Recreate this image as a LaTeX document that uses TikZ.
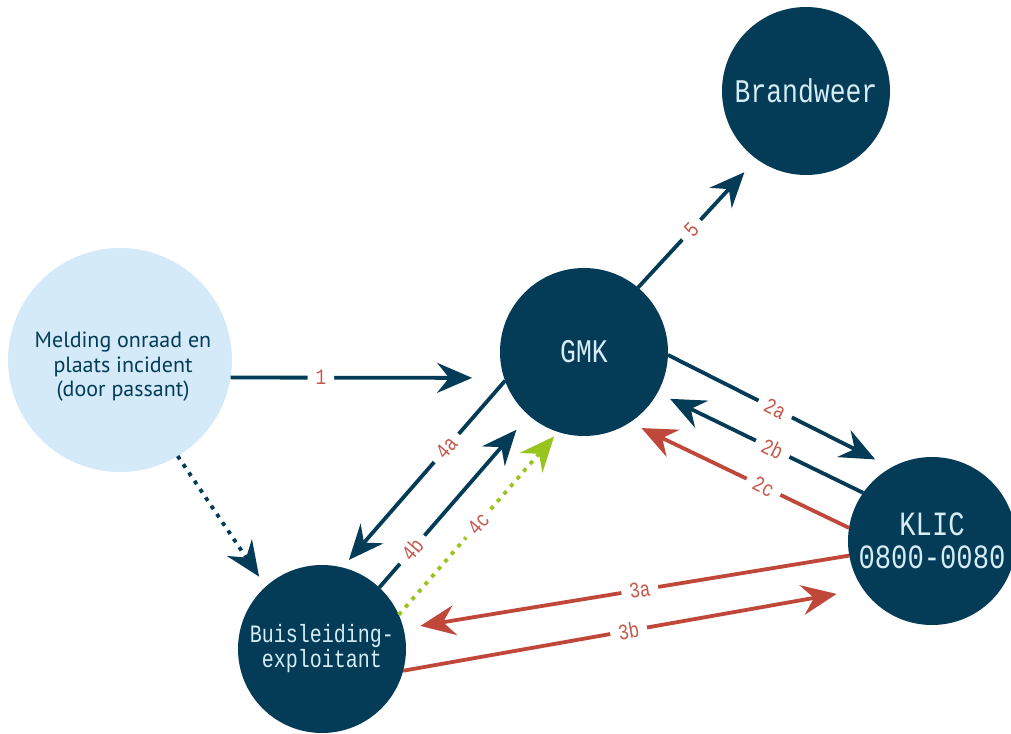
\documentclass[tikz,border=0pt]{standalone}
\usepackage{fontspec}
\setmainfont{PT Sans}
\newfontfamily\monof[FakeStretch=0.8]{Liberation Mono}
\usetikzlibrary{arrows.meta}
\definecolor{navy}{RGB}{4,60,88}
\definecolor{pale}{RGB}{212,234,248}
\definecolor{paletext}{RGB}{214,236,244}
\definecolor{lred}{RGB}{192,72,58}
\definecolor{lblred}{RGB}{198,88,76}
\definecolor{lgreen}{RGB}{152,196,30}
\tikzset{
  darkcirc/.style={circle, fill=navy, minimum size=168pt, inner sep=0pt, outer sep=0pt,
    text=paletext, align=center, font=\monof\fontsize{33}{33}\selectfont},
  arr/.style={line width=3.8pt, -{Stealth[length=35pt,width=30pt,inset=12pt]}},
  lbl/.style={fill=white, text=lblred, sloped, inner xsep=8pt, inner ysep=0pt,
    font=\monof\fontsize{22}{22}\selectfont},
  dots/.style={dash pattern=on 4pt off 6pt}
}
\begin{document}
\begin{tikzpicture}[x=1pt,y=-1pt]
\useasboundingbox (0,0) rectangle (1011,733);
\node[circle, fill=pale, minimum size=224pt, inner sep=0pt, outer sep=0pt] (mel) at (120,360) {};
\node[text=navy, align=center, font=\fontsize{22}{24.5}\selectfont, inner sep=0pt] (meltext) at (123,367)
  {Melding onraad en\\plaats incident\\(door passant)};
\node[darkcirc] (gmk) at (584,352) {GMK};
\node[darkcirc] (bw) at (806,91) {Brandweer};
\node[darkcirc, font=\monof\fontsize{34}{33}\selectfont] (klic) at (932,541) {KLIC\\0800-0080};
\node[darkcirc, font=\monof\fontsize{25}{25}\selectfont] (buis) at (322,649) {Buisleiding-\\exploitant};

\draw[arr, navy, shorten >=32pt] (mel.-9.1) -- node[lbl, pos=0.33] {1} (gmk.-162);
\draw[arr, navy, shorten >=18pt] (gmk.50.4) -- node[lbl, pos=0.45] {5} (bw.234.2);
\draw[arr, navy, shorten >=18pt] (gmk.-2) -- node[lbl, pos=0.48] {2a} (klic.119.3);
\draw[arr, navy, shorten >=14pt] (klic.145) -- node[lbl, pos=0.44] {2b} (gmk.-29.7);
\draw[arr, lred, shorten >=13pt] (klic.171.2) -- node[lbl, pos=0.39] {2c} (gmk.-57);
\draw[arr, lred, shorten >=17pt] (klic.190) -- node[lbl, pos=0.47] {3a} (buis.14.7);
\draw[arr, lred, shorten >=27pt] (buis.-15.3) -- node[lbl, pos=0.49] {3b} (klic.215.7);
\draw[arr, navy, shorten >=10pt] (gmk.200.7) -- node[lbl, pos=0.36] {4a} (buis.76.4);
\draw[arr, navy, shorten >=19pt] (buis.47.8) -- node[lbl, pos=0.22] {4b} (gmk.229.5);
\draw[arr, lgreen, dots, shorten >=6pt] (buis.24.8) -- node[lbl, pos=0.5] {4c} (gmk.252.8);
\draw[arr, navy, dots, shorten >=12pt] (mel.-59.8) -- (buis.132.4);
\end{tikzpicture}
\end{document}
